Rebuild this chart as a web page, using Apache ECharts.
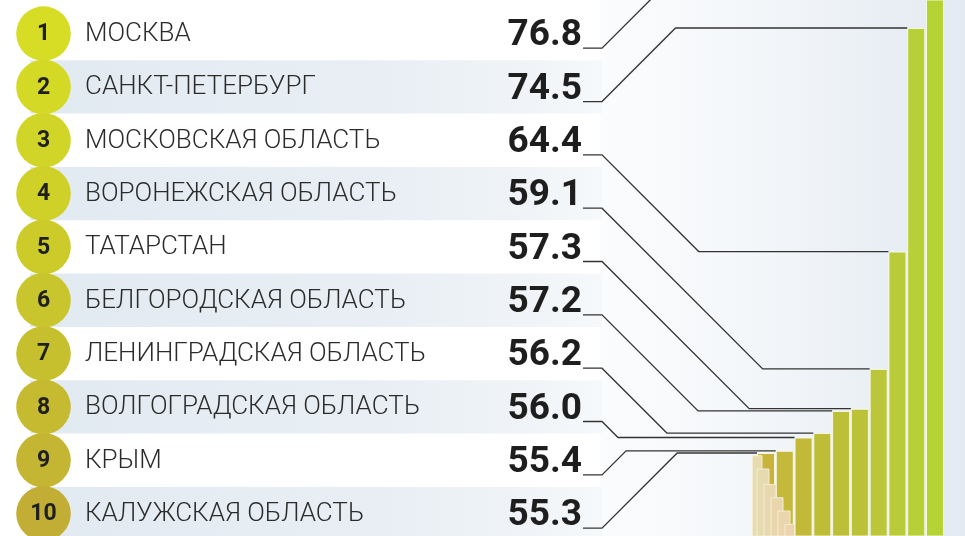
<!DOCTYPE html>
<html>
<head>
<meta charset="utf-8">
<script src="https://cdn.jsdelivr.net/npm/echarts@6/dist/echarts.min.js"></script>
<style>
  html, body { margin: 0; padding: 0; background: #ffffff; }
  #chart { width: 965px; height: 536px; }
</style>
</head>
<body>
<div id="chart"></div>
<script>
// ---- data ----
const ranks = ['1', '2', '3', '4', '5', '6', '7', '8', '9', '10'];
const regions = ['МОСКВА', 'САНКТ-ПЕТЕРБУРГ', 'МОСКОВСКАЯ ОБЛАСТЬ', 'ВОРОНЕЖСКАЯ ОБЛАСТЬ', 'ТАТАРСТАН',
  'БЕЛГОРОДСКАЯ ОБЛАСТЬ', 'ЛЕНИНГРАДСКАЯ ОБЛАСТЬ', 'ВОЛГОГРАДСКАЯ ОБЛАСТЬ', 'КРЫМ', 'КАЛУЖСКАЯ ОБЛАСТЬ'];
const values = [76.8, 74.5, 64.4, 59.1, 57.3, 57.2, 56.2, 56.0, 55.4, 55.3];
const restRanks = ['11', '12', '13', '14', '15', '16'];
const restValues = [55.2, 54.6, 53.9, 53.3, 52.7, 52.1];
const yMin = 51.55, yMax = 75.765;

// ---- styles ----
const barColors = ['#b5d334', '#b8d038', '#b9cb38', '#bcc63a', '#bcc238', '#bcbf38', '#bdbd38', '#c3b938', '#c4b93a', '#c8b43a'];
const circleColors = ['#d7dc24', '#d4d926', '#d1d527', '#cfd128', '#cccb2a', '#c9c52c', '#c7c02e', '#c5ba30', '#c4b532', '#c2ae34'];
const beigeColors = ['#e6dcb0', '#e6dab0', '#e8d8ae', '#e9d6ad', '#ead5ac', '#ebd4ab'];

const W = 965, H = 536;
const row0 = 33.6, rowStep = 53.33;
const rowY = i => row0 + i * rowStep;

const chart = echarts.init(document.getElementById('chart'), null, { renderer: 'canvas' });

chart.setOption({
  animation: false,
  backgroundColor: '#ffffff',
  grid: [
    { left: 756.6, width: 187.8, top: 0, bottom: 0 },
    { left: 752.5, width: 42, top: 0, bottom: 0 }
  ],
  xAxis: [
    { type: 'category', gridIndex: 0, data: ranks, inverse: true, show: false },
    { type: 'category', gridIndex: 1, data: restRanks, show: false }
  ],
  yAxis: [
    { type: 'value', gridIndex: 0, min: yMin, max: yMax, show: false },
    { type: 'value', gridIndex: 1, min: yMin, max: yMax, show: false }
  ],
  series: [
    {
      type: 'bar', xAxisIndex: 0, yAxisIndex: 0, barWidth: 18, clip: true,
      data: values.map((v, i) => ({ value: v, itemStyle: { color: barColors[i] } })),
      itemStyle: { borderColor: 'rgba(248,250,235,0.9)', borderWidth: 1 }
    },
    {
      type: 'bar', xAxisIndex: 1, yAxisIndex: 1, barWidth: 13, clip: true,
      data: restValues.map((v, i) => ({ value: v, itemStyle: { color: beigeColors[i] } })),
      itemStyle: { borderColor: '#f4edd3', borderWidth: 1 }
    }
  ]
});

// ---- layout graphics built from the data ----
const g = [];
g.push({
  type: 'rect', z: -20, silent: true,
  shape: { x: 600, y: 0, width: W - 600, height: H },
  style: { fill: new echarts.graphic.LinearGradient(0, 0, 1, 0, [
    { offset: 0, color: '#fbfcfd' }, { offset: 0.4, color: '#f4f7fa' }, { offset: 1, color: '#e3eaf1' }]) }
});
ranks.forEach((r, i) => {
  if (i % 2 === 1) {
    g.push({
      type: 'rect', z: -15, silent: true,
      shape: { x: 30, y: rowY(i) - rowStep / 2, width: 572, height: rowStep },
      style: { fill: new echarts.graphic.LinearGradient(0, 0, 1, 0, [
        { offset: 0, color: '#e2eaf1' }, { offset: 0.6, color: '#e8eef4' },
        { offset: 0.88, color: '#f0f4f8' }, { offset: 1, color: '#f6f9fb' }]) }
    });
  }
});
ranks.forEach((r, i) => {
  const cy = rowY(i);
  g.push({ type: 'circle', z: 5, shape: { cx: 43.5, cy: cy, r: 27.3 }, style: { fill: circleColors[i] } });
  g.push({ type: 'text', z: 6, x: 43.5, y: cy + 1,
    style: { text: r, fill: '#1f1f1f', font: 'bold 23px Roboto', align: 'center', verticalAlign: 'middle' } });
  g.push({ type: 'text', z: 6, x: 85, y: cy + 1,
    style: { text: regions[i], fill: '#2b2b2b', font: '300 26px Roboto', align: 'left', verticalAlign: 'middle' } });
  g.push({ type: 'text', z: 6, x: 582, y: cy + 2.5,
    style: { text: values[i].toFixed(1), fill: '#1e1e1e', font: 'bold 37px Roboto', align: 'right', verticalAlign: 'middle' } });
});
ranks.forEach((r, i) => {
  const p = chart.convertToPixel({ xAxisIndex: 0, yAxisIndex: 0 }, [r, values[i]]);
  const top = p[1];
  const barLeft = p[0] - 9;
  const uy = rowY(i) + 14.6;
  const kneeX = 602 + Math.abs(top - uy);
  g.push({
    type: 'polyline', z: 4, silent: true,
    shape: { points: [[583, uy], [602, uy], [kneeX, top], [barLeft, top]] },
    style: { stroke: '#333333', lineWidth: 1.3, fill: null }
  });
});
chart.setOption({ graphic: { elements: g } });
</script>
</body>
</html>
